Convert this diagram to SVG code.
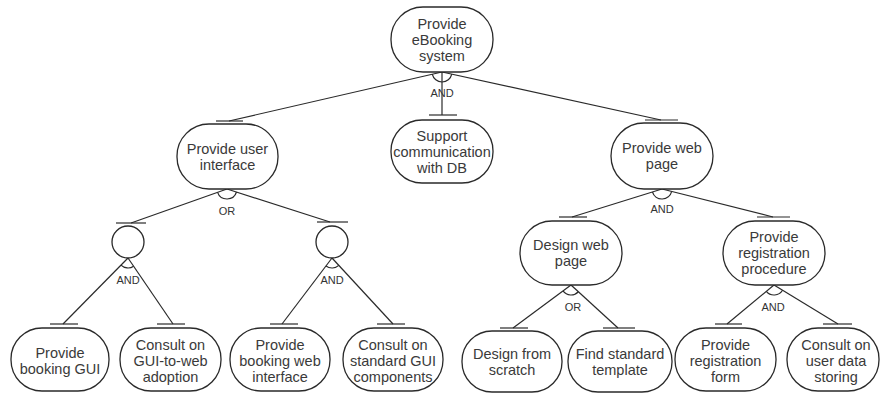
<svg xmlns="http://www.w3.org/2000/svg" width="880" height="394" viewBox="0 0 880 394">
<style>
.n{fill:#fff;stroke:#2a2a2a;stroke-width:1.3}
.t{font-family:"Liberation Sans",Arial,sans-serif;font-size:14.5px;fill:#3a3a3a;text-anchor:middle}
.g{font-family:"Liberation Sans",Arial,sans-serif;font-size:11px;fill:#333;text-anchor:middle}
.c line,.c path{stroke:#2a2a2a;stroke-width:1.2;fill:none}
</style>
<rect width="880" height="394" fill="#fff"/>
<g class="c" id="connectors">
<line x1="442" y1="72" x2="229" y2="121"/>
<line x1="442" y1="72" x2="442" y2="115"/>
<line x1="442" y1="72" x2="661" y2="120"/>
<path d="M432.26,74.24 A10,10 0 0 0 451.77,74.14"/>
<line x1="216" y1="121" x2="243" y2="121"/>
<line x1="429" y1="115" x2="457" y2="115"/>
<line x1="645" y1="120" x2="678" y2="120"/>
<line x1="227" y1="189" x2="131" y2="223"/>
<line x1="227" y1="189" x2="330" y2="222"/>
<path d="M217.57,192.34 A10,10 0 0 0 236.52,192.05"/>
<line x1="116" y1="223" x2="146" y2="223"/>
<line x1="317" y1="222" x2="348" y2="222"/>
<line x1="128" y1="258" x2="63" y2="324"/>
<line x1="128" y1="258" x2="173" y2="324"/>
<path d="M120.98,265.13 A10,10 0 0 0 133.63,266.26"/>
<line x1="332" y1="258" x2="282" y2="324"/>
<line x1="332" y1="258" x2="393" y2="324"/>
<path d="M325.96,265.97 A10,10 0 0 0 338.79,265.34"/>
<line x1="50" y1="324" x2="78" y2="324"/>
<line x1="157" y1="324" x2="185" y2="324"/>
<line x1="270" y1="324" x2="298" y2="324"/>
<line x1="377" y1="324" x2="405" y2="324"/>
<line x1="662" y1="189" x2="572" y2="217"/>
<line x1="662" y1="189" x2="773" y2="217"/>
<path d="M652.45,191.97 A10,10 0 0 0 671.70,191.45"/>
<line x1="559" y1="217" x2="587" y2="217"/>
<line x1="757" y1="217" x2="790" y2="217"/>
<line x1="571" y1="285" x2="513" y2="328"/>
<line x1="571" y1="285" x2="618" y2="328"/>
<path d="M562.97,290.96 A10,10 0 0 0 578.38,291.75"/>
<line x1="774" y1="285" x2="727" y2="324"/>
<line x1="774" y1="285" x2="838" y2="324"/>
<path d="M766.30,291.39 A10,10 0 0 0 782.54,290.20"/>
<line x1="500" y1="328" x2="528" y2="328"/>
<line x1="603" y1="328" x2="635" y2="328"/>
<line x1="715" y1="324" x2="742" y2="324"/>
<line x1="823" y1="324" x2="852" y2="324"/>
<text class="g" x="442" y="97">AND</text>
<text class="g" x="227" y="215">OR</text>
<text class="g" x="662" y="213">AND</text>
<text class="g" x="128" y="284">AND</text>
<text class="g" x="332" y="284">AND</text>
<text class="g" x="573" y="311">OR</text>
<text class="g" x="773" y="311">AND</text>
</g>
<g id="root"><rect class="n" x="391" y="7" width="102" height="65" rx="32" ry="32"/>
<text class="t" x="442" y="29">Provide</text><text class="t" x="442" y="45">eBooking</text><text class="t" x="442" y="61">system</text></g>
<g id="support"><rect class="n" x="391" y="120" width="102" height="63" rx="31" ry="31"/>
<text class="t" x="442" y="140.5">Support</text><text class="t" x="442" y="156.5">communication</text><text class="t" x="442" y="172.5">with DB</text></g>
<g id="ui"><rect class="n" x="177" y="124" width="101" height="65" rx="32" ry="32"/>
<text class="t" x="227.5" y="153.5">Provide user</text><text class="t" x="227.5" y="169.5">interface</text></g>
<g id="web"><rect class="n" x="611" y="123" width="102" height="66" rx="33" ry="33"/>
<text class="t" x="662" y="153">Provide web</text><text class="t" x="662" y="169">page</text></g>
<g id="circ1"><circle class="n" cx="128" cy="242" r="16"/></g>
<g id="circ2"><circle class="n" cx="332" cy="242" r="16"/></g>
<g id="designweb"><rect class="n" x="520" y="221" width="102" height="64" rx="32" ry="32"/>
<text class="t" x="571" y="250">Design web</text><text class="t" x="571" y="266">page</text></g>
<g id="regproc"><rect class="n" x="723" y="221" width="102" height="64" rx="32" ry="32"/>
<text class="t" x="774" y="242">Provide</text><text class="t" x="774" y="258">registration</text><text class="t" x="774" y="274">procedure</text></g>
<g id="bookgui"><rect class="n" x="11" y="328" width="98" height="63" rx="31" ry="31"/>
<text class="t" x="60" y="357.5">Provide</text><text class="t" x="60" y="373.5">booking GUI</text></g>
<g id="consultgui"><rect class="n" x="120" y="328" width="101" height="63" rx="31" ry="31"/>
<text class="t" x="170.5" y="349.5">Consult on</text><text class="t" x="170.5" y="365.5">GUI-to-web</text><text class="t" x="170.5" y="381.5">adoption</text></g>
<g id="bookweb"><rect class="n" x="230" y="328" width="100" height="63" rx="31" ry="31"/>
<text class="t" x="280" y="349.5">Provide</text><text class="t" x="280" y="365.5">booking web</text><text class="t" x="280" y="381.5">interface</text></g>
<g id="consultstd"><rect class="n" x="343" y="328" width="100" height="63" rx="31" ry="31"/>
<text class="t" x="393" y="349.5">Consult on</text><text class="t" x="393" y="365.5">standard GUI</text><text class="t" x="393" y="381.5">components</text></g>
<g id="scratch"><rect class="n" x="462" y="331" width="100" height="61" rx="30" ry="30"/>
<text class="t" x="512" y="358.5">Design from</text><text class="t" x="512" y="374.5">scratch</text></g>
<g id="template"><rect class="n" x="568" y="331" width="104" height="61" rx="30" ry="30"/>
<text class="t" x="620" y="358.5">Find standard</text><text class="t" x="620" y="374.5">template</text></g>
<g id="regform"><rect class="n" x="675" y="328" width="101" height="63" rx="31" ry="31"/>
<text class="t" x="725.5" y="349.5">Provide</text><text class="t" x="725.5" y="365.5">registration</text><text class="t" x="725.5" y="381.5">form</text></g>
<g id="userdata"><rect class="n" x="787" y="328" width="92" height="63" rx="31" ry="31"/>
<text class="t" x="836" y="349.5">Consult on</text><text class="t" x="836" y="365.5">user data</text><text class="t" x="836" y="381.5">storing</text></g>
</svg>
